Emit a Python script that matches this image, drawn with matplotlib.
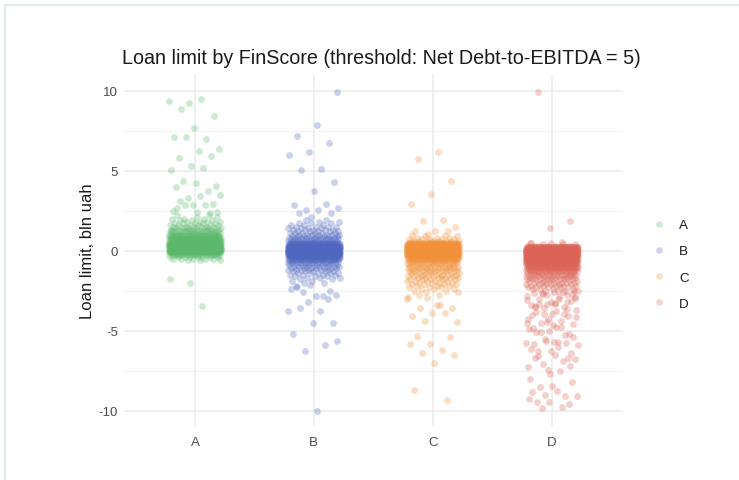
import numpy as np
import matplotlib
matplotlib.use("Agg")
import matplotlib.pyplot as plt
from matplotlib.lines import Line2D

plt.rcParams['font.family'] = ['Liberation Sans', 'DejaVu Sans']

categories = ["A", "B", "C", "D"]
colors = {"A": "#5BB86B", "B": "#4F67BF", "C": "#F0913A", "D": "#DC6457"}

# dense core: bin value -> number of points
A_core_vals = [-0.6, -0.5, -0.4, -0.3, -0.2, -0.1, 0.0, 0.1, 0.2, 0.3, 0.4, 0.5, 0.6, 0.7, 0.8,
               0.9, 1.0, 1.1, 1.2, 1.3, 1.4, 1.5, 1.6, 1.7, 1.8, 1.9, 2.0, 2.1, 2.2]
A_core_cnts = [3, 5, 8, 12, 20, 40, 80, 90, 80, 70, 60, 50, 40, 32, 26,
               22, 18, 15, 12, 10, 8, 7, 6, 5, 4, 3, 3, 2, 2]
A_outliers = [9.23, 9.33, 9.46, 8.85, 8.4, 7.65, 7.08, 6.96, 7.08, 6.33, 6.21, 5.77, 5.9, 5.31,
              5.06, 5.17, 4.35, 4.04, 4.2, 3.96, 3.71, 3.29, 3.5, 3.44, 3.08, 2.92, 2.85, 2.46,
              2.83, 2.85, 2.42, 2.42, 2.65, 2.33, -2.04, -1.77, -3.44]

B_core_vals = [1.9, 1.8, 1.7, 1.6, 1.5, 1.4, 1.3, 1.2, 1.1, 1.0, 0.9, 0.8, 0.7, 0.6, 0.5, 0.4,
               0.3, 0.2, 0.1, 0.0, -0.1, -0.2, -0.3, -0.4, -0.5, -0.6, -0.7, -0.8, -0.9, -1.0,
               -1.1, -1.2, -1.3, -1.4, -1.5, -1.6, -1.7, -1.8, -1.9, -2.0]
B_core_cnts = [2, 2, 3, 3, 4, 4, 5, 5, 6, 7, 8, 9, 11, 14, 20, 35,
               60, 80, 100, 110, 100, 80, 60, 40, 25, 16, 12, 10, 9, 8,
               7, 6, 5, 5, 4, 3, 3, 2, 2, 2]
B_outliers = [9.92, 7.83, 7.17, 6.71, 6.17, 6.0, 5.1, 5.02, 4.27, 3.71, 2.88, 2.94, 2.56, 2.65,
              2.56, 2.35, 2.33, 2.08, -2.4, -2.81, -2.6, -2.75, -2.83, -2.19, -3.02, -3.23,
              -3.75, -3.75, -3.58, -4.54, -4.54, -5.19, -5.9, -6.29, -5.67, -10.0, -2.3, -2.5,
              -2.15]

C_core_vals = [1.0, 0.9, 0.8, 0.7, 0.6, 0.5, 0.4, 0.3, 0.2, 0.1, 0.0, -0.1, -0.2, -0.3, -0.4,
               -0.5, -0.6, -0.7, -0.8, -0.9, -1.0, -1.1, -1.2, -1.3, -1.4, -1.5, -1.6, -1.7,
               -1.8, -1.9, -2.0, -2.1, -2.2, -2.3, -2.4, -2.5, -2.6]
C_core_cnts = [2, 2, 3, 5, 10, 25, 50, 70, 80, 85, 85, 80, 70, 55, 40,
               25, 15, 12, 11, 10, 9, 9, 8, 8, 7, 7, 6, 6,
               5, 5, 4, 4, 3, 3, 3, 2, 2]
C_outliers = [6.17, 5.71, 4.35, 3.56, 2.92, 1.9, 1.85, 1.5, 1.25, 1.23, 1.2, 1.04, -2.92, -3.4,
              -3.56, -3.56, -3.92, -4.1, -3.9, -4.42, -4.44, -3.38, -5.35, -5.42, -5.83, -5.83,
              -6.21, -6.38, -6.54, -7.02, -8.71, -9.35, -2.98, -3.0, -2.75, -2.8]

D_core_vals = [0.5, 0.4, 0.3, 0.2, 0.1, 0.0, -0.1, -0.2, -0.3, -0.4, -0.5, -0.6, -0.7, -0.8,
               -0.9, -1.0, -1.1, -1.2, -1.3, -1.4, -1.5, -1.6, -1.7, -1.8, -1.9, -2.0, -2.1,
               -2.2, -2.3, -2.4, -2.5]
D_core_cnts = [2, 3, 8, 60, 90, 90, 85, 80, 75, 70, 60, 55, 45, 38,
               30, 25, 20, 17, 14, 12, 10, 9, 8, 8, 7, 6, 6,
               5, 5, 4, 4]
D_outliers = [9.92, 1.83, 1.42, 0.5, 0.56, -2.67, -2.92, -3.33, -3.46, -3.23, -3.33, -3.1, -3.0,
              -3.33, -2.71, -3.96, -4.0, -3.96, -3.96, -4.17, -4.75, -5.1, -5.21, -5.0, -4.9,
              -4.79, -5.1, -5.42, -5.73, -5.83, -5.79, -5.63, -5.79, -5.73, -6.25, -6.42, -6.25,
              -6.15, -6.88, -7.08, -6.77, -6.5, -6.7, -6.7, -7.46, -7.25, -7.54, -8.54, -8.19,
              -8.44, -8.85, -9.06, -9.0, -9.06, -8.75, -9.48, -9.58, -9.44, -9.27, -9.75, -9.83,
              -2.55, -2.6, -2.65, -2.75, -2.8, -2.85, -2.9, -3.05, -3.15, -3.2, -3.4, -3.5, -3.6,
              -3.7, -3.75, -3.85, -4.1, -4.25, -4.3, -4.4, -4.5, -4.6, -4.65, -4.85, -5.3, -5.5,
              -5.9, -6.0, -6.6, -7.2, -7.7, -8.0, -2.58, -2.7, -2.95, -3.25, -3.55, -3.65, -4.45,
              -4.55]

y_ticks = [-10, -5, 0, 5, 10]
y_minor = [-7.5, -2.5, 2.5, 7.5]

data = {
    "A": (A_core_vals, A_core_cnts, A_outliers),
    "B": (B_core_vals, B_core_cnts, B_outliers),
    "C": (C_core_vals, C_core_cnts, C_outliers),
    "D": (D_core_vals, D_core_cnts, D_outliers),
}

W, H = 739, 481
fig = plt.figure(figsize=(W / 100, H / 100), dpi=100)
ax = fig.add_axes([123.6 / W, 1 - 427 / H, (623 - 123.6) / W, (427 - 75) / H])

ax.set_xlim(0.4, 4.6)
ax.set_ylim(-10.96, 11.04)

for yv in y_ticks:
    ax.axhline(yv, color="#EBEBEB", lw=1.1, zorder=0)
for yv in y_minor:
    ax.axhline(yv, color="#F2F2F2", lw=0.7, zorder=0)
for i in range(len(categories)):
    ax.axvline(i + 1, color="#EBEBEB", lw=1.1, zorder=0)

jitter_half = 0.22
golden = 0.6180339887
handles = []
for ci, cat in enumerate(categories):
    vals, cnts, outl = data[cat]
    ys = []
    for v, c in zip(vals, cnts):
        ys.extend([v] * c)
    ys.extend(outl)
    ys = np.array(ys, dtype=float)
    idx = np.arange(len(ys))
    u = (idx * golden + 0.37 * (ci + 1)) % 1.0
    xs = (ci + 1) + (u - 0.5) * 2 * jitter_half
    ax.scatter(xs, ys, s=24, color=colors[cat], alpha=0.3, linewidths=0, zorder=2)
    handles.append(Line2D([], [], marker="o", linestyle="", markersize=4.8,
                          markerfacecolor=colors[cat], markeredgewidth=0, alpha=0.28,
                          label=cat))

ax.set_xticks(range(1, len(categories) + 1))
ax.set_xticklabels(categories)
ax.set_yticks(y_ticks)
ax.set_yticklabels([str(t) for t in y_ticks])
ax.tick_params(axis="both", length=0, labelsize=9.6, colors="#4D4D4D")
ax.tick_params(axis="x", pad=7)
ax.tick_params(axis="y", pad=4)
for sp in ax.spines.values():
    sp.set_visible(False)

ax.set_ylabel("Loan limit, bln uah", fontsize=12, color="#1A1A1A", labelpad=3)

fig.text(381 / W, 1 - 58 / H, "Loan limit by FinScore (threshold: Net Debt-to-EBITDA = 5)",
         ha="center", va="center", fontsize=14.2, color="#1A1A1A")

leg = fig.legend(handles=handles, loc="center left", bbox_to_anchor=(646 / W, 1 - 265.5 / H),
                 frameon=False, fontsize=9.6, labelspacing=1.05, handletextpad=1.0,
                 handlelength=1.0, borderpad=0)
for t in leg.get_texts():
    t.set_color("#1A1A1A")

# screenshot frame lines
fig.add_artist(Line2D([5 / W, 1], [1 - 6 / H, 1 - 6 / H], color="#DCE6F2", lw=1.2))
fig.add_artist(Line2D([5 / W, 5 / W], [1 - 6 / H, 0], color="#DCE6F2", lw=1.2))

fig.savefig("out.png", dpi=100)
